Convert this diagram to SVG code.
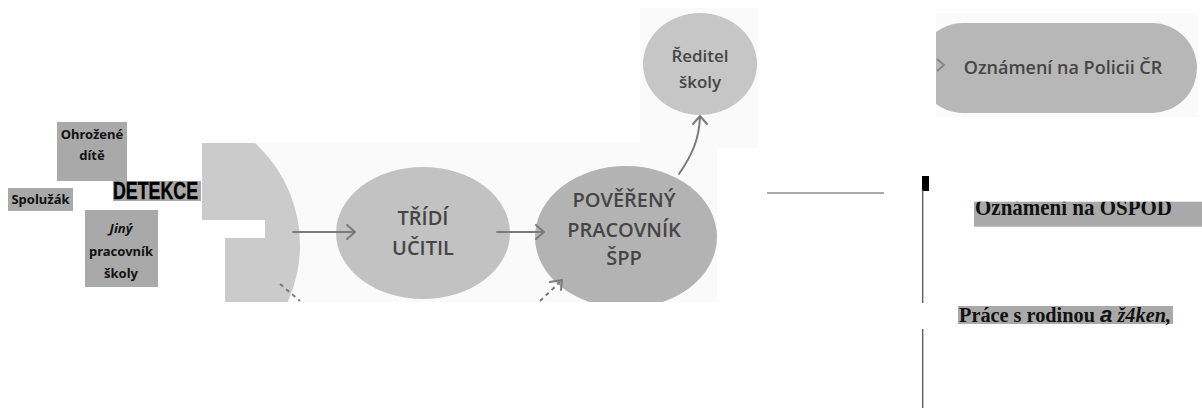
<svg xmlns="http://www.w3.org/2000/svg" width="1202" height="418" viewBox="0 0 1202 418">
<style>
.lbl{fill:#a9a9a9}
.lt{font-family:"Noto Sans","Open Sans",sans-serif;font-weight:bold;font-size:13px;fill:#111;text-anchor:middle}
.scan{fill:#fafafa}
.hand{font-family:"Open Sans","Noto Sans",sans-serif;font-weight:600;fill:#454545;text-anchor:middle}
.arr{fill:none;stroke:#7a7a7a;stroke-width:2;stroke-linecap:round;stroke-linejoin:round}
.dash{fill:none;stroke:#7a7a7a;stroke-width:2;stroke-dasharray:4 4}
.ser{font-family:"Liberation Serif","Times New Roman",serif;font-weight:bold;fill:#111}
</style>
<defs>
<clipPath id="cMain"><path d="M202,143 H717 V302 H225 V238 H265 V220 H202 Z"/></clipPath>
<clipPath id="cRed"><rect x="640" y="8" width="118" height="140"/></clipPath>
<clipPath id="cPol"><rect x="936" y="13" width="262" height="104"/></clipPath>
<clipPath id="cOsp"><rect x="974" y="201.7" width="228" height="25"/></clipPath>
</defs>
<rect width="1202" height="418" fill="#fff"/>

<!-- scan backgrounds -->
<path class="scan" d="M202,143 H717 V302 H225 V238 H265 V220 H202 Z"/>
<rect class="scan" x="640" y="8" width="118" height="140"/>
<rect class="scan" x="936" y="13" width="262" height="104"/>

<g id="detekce-source" clip-path="url(#cMain)">
<circle cx="162" cy="245" r="138" fill="#cbcbcb"/>
<path d="M202,220 H265 V238 H202 Z" fill="#fff"/>
</g>

<g id="tridni-ucitel" clip-path="url(#cMain)">
<ellipse cx="423" cy="233" rx="87" ry="66" fill="#c2c2c2"/>
<text class="hand" font-size="20" x="423" y="225">TŘÍDÍ</text>
<text class="hand" font-size="20" x="423" y="255">UČITIL</text>
</g>

<g id="povereny" clip-path="url(#cMain)">
<ellipse cx="626" cy="237" rx="91" ry="71" fill="#b3b3b3"/>
<text class="hand" font-size="20" x="624" y="207">POVĚŘENÝ</text>
<text class="hand" font-size="20" x="624" y="237">PRACOVNÍK</text>
<text class="hand" font-size="20" x="624" y="265">ŠPP</text>
</g>

<g id="reditel" clip-path="url(#cRed)">
<ellipse cx="700" cy="64" rx="57" ry="51" fill="#c6c6c6"/>
<text class="hand" font-size="17" x="700" y="62">Ředitel</text>
<text class="hand" font-size="17" x="700" y="88">školy</text>
</g>

<g id="policie" clip-path="url(#cPol)">
<rect x="918" y="23" width="279" height="90" rx="45" fill="#b7b7b7"/>
<path d="M937,59 L944,65 L937,71" fill="none" stroke="#888" stroke-width="2"/>
<text class="hand" font-size="18" font-weight="500" x="1063" y="74">Oznámení na Policii ČR</text>
</g>

<g id="connectors">
<path class="arr" d="M293,232 H355 M347,225 L355,232 L347,239"/>
<path class="arr" d="M497,232 H544 M536,225 L544,232 L536,239"/>
<path class="arr" d="M679,174 C692,155 699,140 700,117 M693,124 L700,116 L707,124"/>
<path class="dash" d="M280,284 L300,301"/>
<path class="dash" d="M540,301 L560,282"/>
<path class="arr" d="M550,282 L562,280 L561,290"/>
<line x1="767" y1="193" x2="884" y2="193" stroke="#aaa" stroke-width="2"/>
<rect x="922" y="176" width="7" height="15" fill="#000"/>
<line x1="922.7" y1="190" x2="922.7" y2="303" stroke="#555" stroke-width="1.3"/>
<line x1="922.7" y1="329" x2="922.7" y2="408" stroke="#555" stroke-width="1.3"/>
</g>

<g id="ohrozene-dite">
<rect class="lbl" x="57" y="122" width="70" height="59"/>
<text class="lt" x="92" y="139">Ohrožené</text>
<text class="lt" x="92" y="160">dítě</text>
</g>
<g id="spoluzak">
<rect class="lbl" x="8" y="188" width="65" height="23"/>
<text class="lt" x="40.5" y="204">Spolužák</text>
</g>
<g id="detekce">
<rect class="lbl" x="113" y="181" width="88" height="20"/>
<text x="113" y="199" font-family="Liberation Sans,Arial,sans-serif" font-weight="bold" font-size="23" fill="#000" stroke="#000" stroke-width="0.4" textLength="85" lengthAdjust="spacingAndGlyphs">DETEKCE</text>
</g>
<g id="jiny-pracovnik">
<rect class="lbl" x="85" y="210" width="73" height="77"/>
<text class="lt" x="121" y="233" font-weight="normal" font-style="italic">Jiný</text>
<text class="lt" x="121" y="256">pracovník</text>
<text class="lt" x="121" y="278">školy</text>
</g>

<g id="ospod">
<rect class="lbl" x="974" y="201.7" width="228" height="25"/>
<text class="ser" clip-path="url(#cOsp)" x="975" y="214.5" font-size="23" textLength="197" lengthAdjust="spacingAndGlyphs">Oznámeni na OSPOD</text>
</g>
<g id="prace-s-rodinou">
<rect class="lbl" x="958" y="306" width="215" height="18"/>
<text class="ser" x="959" y="321.5" font-size="20" textLength="212" lengthAdjust="spacingAndGlyphs">Práce s rodinou <tspan font-family="Liberation Sans,Arial,sans-serif" font-style="italic" font-size="22">a</tspan> <tspan font-style="italic">ž4ken,</tspan></text>
</g>
</svg>
